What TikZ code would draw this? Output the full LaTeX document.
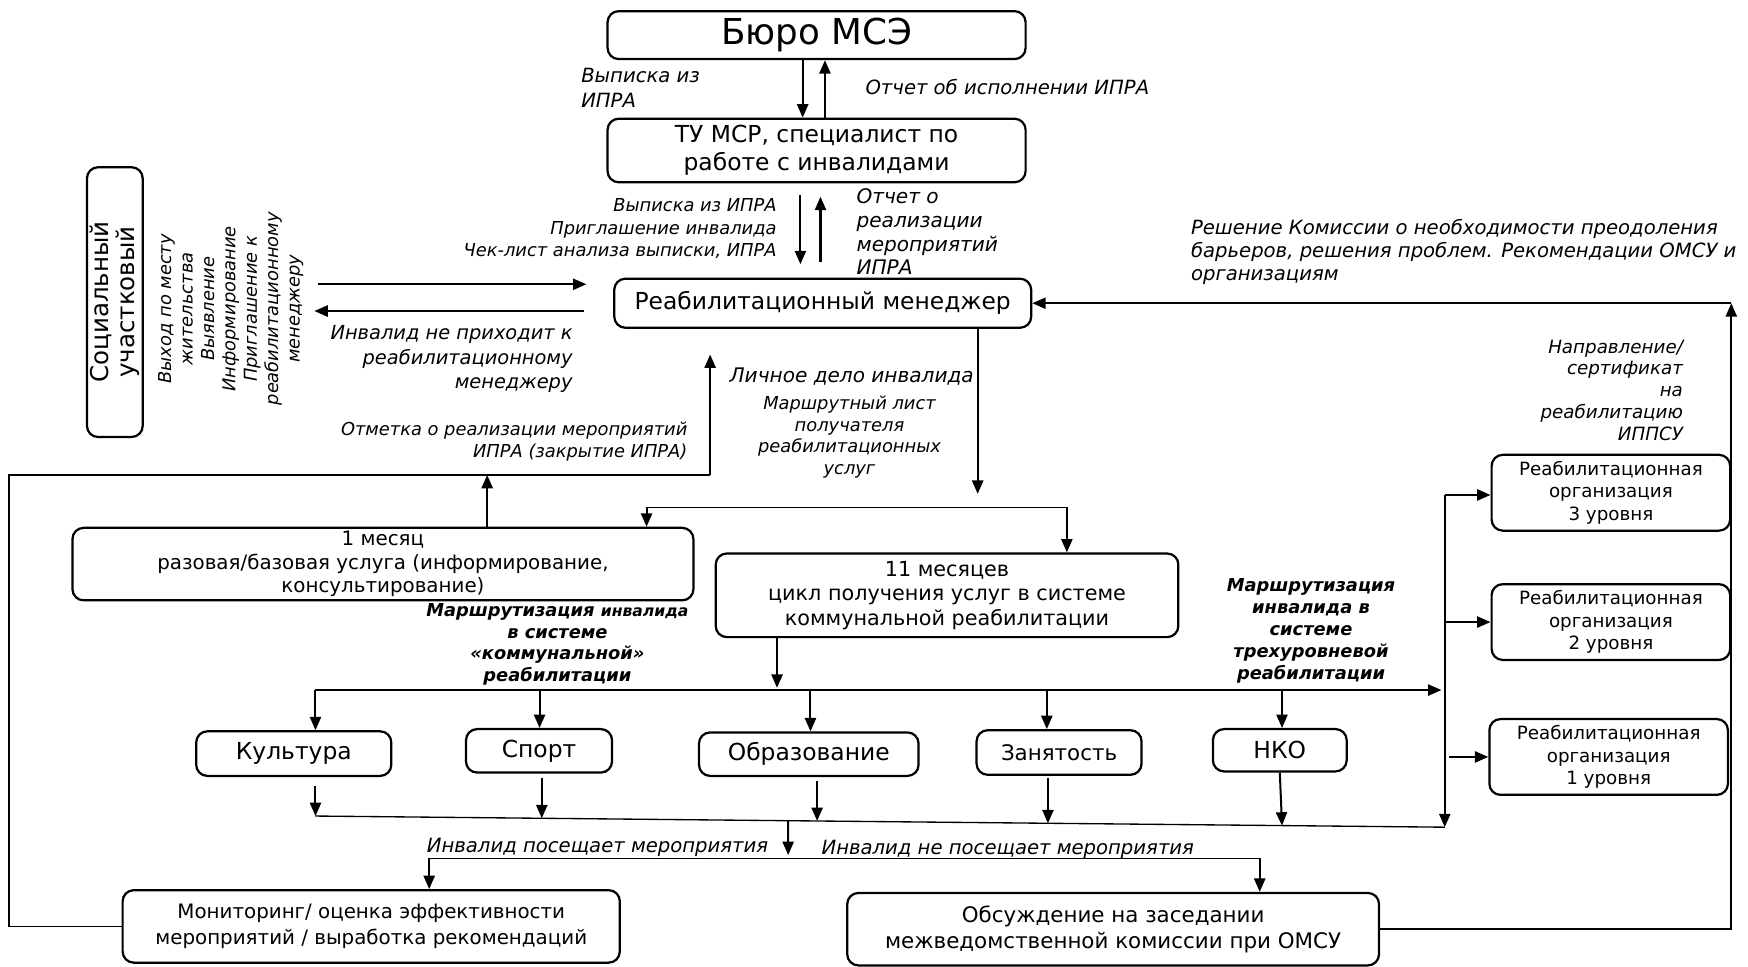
\documentclass[tikz,border=0pt]{standalone}
\usepackage{fontspec}
\setmainfont{DejaVu Sans}
\usetikzlibrary{arrows.meta,calc}
\newcommand{\fs}[2]{\fontsize{#1}{#2}\selectfont}
\begin{document}
\begin{tikzpicture}[x=0.5pt,y=-0.5pt,
  box/.style={draw, line width=1pt, rounded corners=5pt, align=center, inner sep=1pt},
  arr/.style={line width=0.9pt, -{Triangle[length=6pt,width=5pt]}},
  thinline/.style={line width=0.6pt},
  loopline/.style={line width=0.8pt},
  lab/.style={font=\fs{8.8}{11}\itshape, inner sep=0pt},
  slab/.style={font=\fs{8}{10}\itshape, inner sep=0pt},
  blab/.style={font=\fs{8}{9.8}\bfseries\itshape, inner sep=0pt, align=center}]
\fill[white] (0,0) rectangle (1568,867);
\useasboundingbox (0,0) rectangle (1568,867);

% boxes
\node[box, minimum width=187.5pt, minimum height=21.5pt, font=\fs{16}{18}] (buro) at (732.5,31.5) {Бюро МСЭ};
\node[box, minimum width=187.5pt, minimum height=28.5pt, font=\fs{10.5}{12.5}] (tu) at (732.5,135) {ТУ МСР, специалист по\\работе с инвалидами};
\node[box, minimum width=187pt, minimum height=22pt, font=\fs{10.5}{12.5}] (rm) at (738,272) {Реабилитационный менеджер};
\node[box, rotate=90, minimum width=121pt, minimum height=25pt, font=\fs{11}{11.5}] (soc) at (103,271) {Социальный\\участковый};
\node[box, minimum width=278.5pt, minimum height=32.5pt, font=\fs{8.9}{10.5}] (m1) at (343.5,506) {1 месяц\\разовая/базовая услуга (информирование,\\консультирование)};
\node[box, minimum width=207.5pt, minimum height=37.5pt, font=\fs{9.3}{11}] (m11) at (849.5,534) {11 месяцев\\цикл получения услуг в системе\\коммунальной реабилитации};
\node[box, minimum width=87.5pt, minimum height=20pt, font=\fs{10.5}{12}] (kult) at (263.5,676) {Культура};
\node[box, minimum width=65.5pt, minimum height=19.5pt, font=\fs{10.5}{12}] (sport) at (483.5,673.5) {Спорт};
\node[box, minimum width=98.5pt, minimum height=19.5pt, font=\fs{10.5}{12}] (obr) at (725.5,676.5) {Образование};
\node[box, minimum width=74pt, minimum height=20pt, font=\fs{9.6}{12}] (zan) at (950,675) {Занятость};
\node[box, minimum width=60pt, minimum height=19pt, font=\fs{10.5}{12}] (nko) at (1148,673) {НКО};
\node[box, minimum width=107pt, minimum height=34pt, font=\fs{8.2}{10}] (L3) at (1445,442) {Реабилитационная\\организация\\3 уровня};
\node[box, minimum width=107pt, minimum height=34pt, font=\fs{8.2}{10}] (L2) at (1445,558) {Реабилитационная\\организация\\2 уровня};
\node[box, minimum width=107pt, minimum height=34pt, font=\fs{8.2}{10}] (L1) at (1443,679) {Реабилитационная\\организация\\1 уровня};
\node[box, minimum width=223pt, minimum height=32.5pt, font=\fs{8.9}{11.5}] (mon) at (333,831) {Мониторинг/ оценка эффективности\\мероприятий / выработка рекомендаций};
\node[box, minimum width=238.5pt, minimum height=32.5pt, font=\fs{9.6}{11.8}] (obs) at (998.5,833.5) {Обсуждение на заседании\\межведомственной комиссии при ОМСУ};

% labels
\node[lab, anchor=west, align=left] (l1) at (521,79) {Выписка из\\ИПРА};
\node[lab, anchor=west] (l2) at (776,78) {Отчет об исполнении ИПРА};
\node[slab, anchor=east, align=right] (l3) at (697,205) {Выписка из ИПРА\\Приглашение инвалида\\Чек-лист анализа выписки, ИПРА};
\node[lab, anchor=west, align=left, font=\fs{9}{10.6}\itshape] (l4) at (768,208) {Отчет о\\реализации\\мероприятий\\ИПРА};
\node[slab, rotate=90, align=center, font=\fs{8}{9.6}\itshape] (l5) at (207,277) {Выход по месту\\жительства\\Выявление\\Информирование\\Приглашение к\\реабилитационному\\менеджеру};
\node[lab, anchor=east, align=right, font=\fs{8.7}{11}\itshape] (l6) at (514,322) {Инвалид не приходит к\\реабилитационному\\менеджеру};
\node[slab, anchor=east, align=right] (l7) at (617,396) {Отметка о реализации мероприятий\\ИПРА (закрытие ИПРА)};
\node[lab, font=\fs{9}{11}\itshape] (l8) at (764,338) {Личное дело инвалида};
\node[slab, align=center, font=\fs{8}{9.7}\itshape] (l9) at (762,392) {Маршрутный лист\\получателя\\реабилитационных\\услуг};
\node[blab] (l10) at (500,578) {Маршрутизация {\fs{7}{9.8}инвалида}\\в системе\\«коммунальной»\\реабилитации};
\node[blab] (l11) at (1176,566) {Маршрутизация\\инвалида в\\системе\\трехуровневой\\реабилитации};
\node[lab, anchor=west, align=left, font=\fs{8.8}{10.5}\itshape] (l12) at (1068,226) {Решение Комиссии о необходимости преодоления\\барьеров, решения проблем. Рекомендации ОМСУ и\\организациям};
\node[slab, anchor=east, align=right, font=\fs{8.2}{9.8}\itshape] (l13) at (1510,350) {Направление/\\сертификат\\на\\реабилитацию\\ИППСУ};
\node[lab] (l14) at (536,760) {Инвалид посещает мероприятия};
\node[lab] (l15) at (904,762) {Инвалид не посещает мероприятия};

% top arrows
\draw[arr] (720,0 |- buro.south) -- (720,0 |- tu.north);
\draw[arr] (740,0 |- tu.north) -- (740,0 |- buro.south);
\draw[arr, shorten <=5pt, shorten >=6pt] (718,0 |- tu.south) -- (718,0 |- rm.north);
\draw[arr, shorten <=7pt, shorten >=6pt] (736,0 |- rm.north) -- (736,0 |- tu.south);

% social arrows
\coordinate (s1) at (285,255);
\coordinate (s2) at (282,279);
\draw[arr, shorten >=12pt] (s1) -- (s1 -| rm.west);
\draw[arr, shorten <=13pt] (s2 -| rm.west) -- (s2);

% RM down and split
\coordinate (rmd) at (877,443);
\coordinate (j1) at (580,455);
\coordinate (j2) at (957,455);
\draw[arr] (rmd |- rm.south) -- (rmd);
\draw[thinline] (j1) -- (j2);
\draw[arr] (j1) -- (j1 |- m1.north);
\draw[arr] (j2) -- (j2 |- m11.north);

% feedback loop from monitoring to RM
\coordinate (c1) at (8,426);
\coordinate (c2) at (637,426);
\coordinate (c3) at (637,318);
\draw[thinline] (mon.west) -| (c1) -- (c2);
\draw[arr] (c2) -- (c3);
\draw[arr] (437,0 |- m1.north) -- (437,0 |- c1);

% 11 months down to routing line
\coordinate (d1) at (697,617);
\draw[arr] (d1 |- m11.south) -- (d1);
\coordinate (r0) at (283,619);
\coordinate (r5) at (1150,619);
\coordinate (r6) at (1293,619);
\draw[thinline] (r0) -- (r5);
\draw[arr] (r5) -- (r6);
\draw[arr] (r0) -- (r0 |- kult.north);
\draw[arr] (484,0 |- r0) -- (484,0 |- sport.north);
\draw[arr] (727,0 |- r0) -- (727,0 |- obr.north);
\draw[arr] (939,0 |- r0) -- (939,0 |- zan.north);
\draw[arr] (r5) -- (r5 |- nko.north);

% three-level routing
\coordinate (v1) at (1296,444);
\coordinate (v2) at (1296,742);
\draw[arr] (v1) -- (v2);
\draw[arr] (v1) -- (v1 -| L3.west);
\draw[arr] (v1 |- L2.west) -- (L2.west);
\draw[arr] ([xshift=2pt]v1 |- L1.west) -- (L1.west);

% collecting line
\coordinate (b0) at (283,732);
\coordinate (b1) at ($(b0)!0.2004!(v2)$);
\coordinate (b2) at ($(b0)!0.4442!(v2)$);
\coordinate (b3) at ($(b0)!0.6486!(v2)$);
\coordinate (b4) at ($(b0)!0.8559!(v2)$);
\coordinate (b5) at ($(b0)!0.4186!(v2)$);
\draw[thinline] (b0) -- (v2);
\draw[arr, shorten <=4pt] (b0 |- kult.south) -- (b0);
\draw[arr, shorten <=2pt] (b1 |- sport.south) -- (b1);
\draw[arr, shorten <=2pt] (b2 |- obr.south) -- (b2);
\draw[arr, shorten <=1pt] (b3 |- zan.south) -- (b3);
\draw[arr] (nko.south) -- (b4);

% split to monitoring / commission
\coordinate (e0) at (707,767);
\coordinate (e1) at (385,770);
\coordinate (e2) at (1130,770);
\draw[arr] (b5) -- (e0);
\draw[thinline] (e1) -- (e2);
\draw[arr] (e1) -- (e1 |- mon.north);
\draw[arr] (e2) -- (e2 |- obs.north);

% commission back to RM
\coordinate (rc) at (1553,272);
\draw[loopline, -{Triangle[length=6pt,width=5pt]}] (obs.east) -| (rc);
\draw[loopline, -{Triangle[length=6pt,width=5pt]}] (rc) -- (rm.east);
\end{tikzpicture}
\end{document}
